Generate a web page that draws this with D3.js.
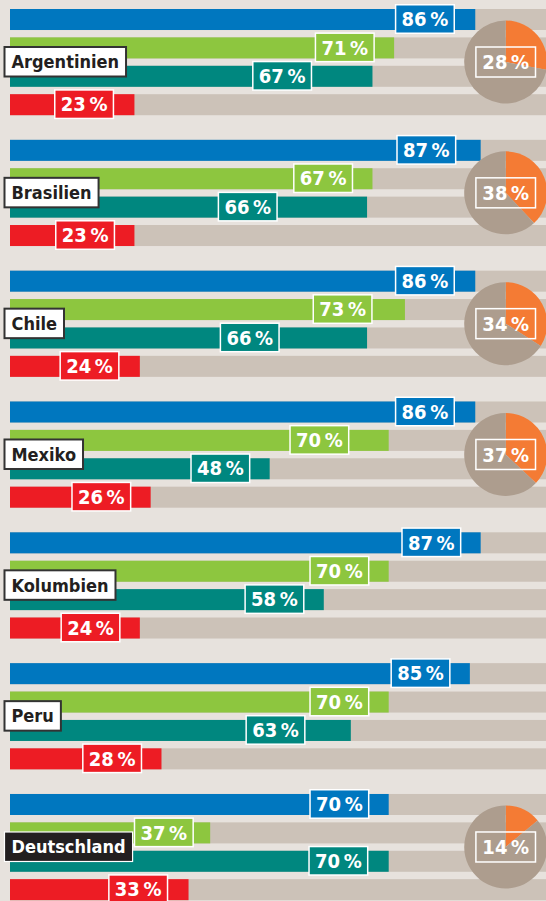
<!DOCTYPE html>
<html>
<head>
<meta charset="utf-8">
<script src="https://cdn.jsdelivr.net/npm/d3@7/dist/d3.min.js"></script>
<style>
  html, body { margin: 0; padding: 0; background: #e7e2dd; }
  svg { display: block; }
  text { font-family: "DejaVu Sans Condensed", "DejaVu Sans", sans-serif; font-weight: bold; }
</style>
</head>
<body>
<div id="chart"></div>
<script>
// values, one entry per country
const countries = ["Argentinien", "Brasilien", "Chile", "Mexiko", "Kolumbien", "Peru", "Deutschland"];
const blueValues = [86, 87, 86, 86, 87, 85, 70];
const greenValues = [71, 67, 73, 70, 70, 70, 37];
const tealValues = [67, 66, 66, 48, 58, 63, 70];
const redValues = [23, 23, 24, 26, 24, 28, 33];
const pieValues = [28, 38, 34, 37, null, null, 14]; // no pie for Kolumbien / Peru

const seriesColors = ["#0077bf", "#8dc63f", "#00877f", "#ed1c24"];

// hand placed labels in the original: extra shift to the left (px) per bar
const labelNudge = {
  Argentinien: [1, 0, 41, 1],
  Brasilien: [5, 0, 70, 0],
  Chile: [1, 13, 68, 1],
  Mexiko: [1, 20, 0, 0],
  Peru: [0, 0, 26, 0],
  Deutschland: [0, -3, 1, 1]
};

const width = 546, height = 901;

const svg = d3.select("#chart").append("svg")
  .attr("width", width)
  .attr("height", height);

svg.append("rect").attr("width", width).attr("height", height).attr("fill", "#e7e2dd");

const x = d3.scaleLinear().domain([0, 100]).range([10, 551]);

const yGroup = d3.scaleBand()
  .domain(countries)
  .range([9, 9 + countries.length * 130.83])
  .paddingInner(0);

const yRow = d3.scaleBand()
  .domain([0, 1, 2, 3])
  .range([0, 106.2])
  .paddingInner(0.26)
  .paddingOuter(0);

const rows = countries.map((c, i) => ({
  country: c,
  values: [blueValues[i], greenValues[i], tealValues[i], redValues[i]],
  pie: pieValues[i]
}));

const groups = svg.selectAll("g.country")
  .data(rows)
  .enter().append("g")
  .attr("class", "country")
  .attr("transform", (d) => "translate(0," + yGroup(d.country) + ")");

// grey tracks behind each bar
groups.selectAll("rect.track")
  .data([0, 1, 2, 3])
  .enter().append("rect")
  .attr("class", "track")
  .attr("x", x(0))
  .attr("y", (r) => yRow(r))
  .attr("width", width - x(0))
  .attr("height", yRow.bandwidth())
  .attr("fill", "#ccc2b8");

groups.selectAll("rect.bar")
  .data((d) => d.values.map((v, r) => ({ v: v, r: r, country: d.country })))
  .enter().append("rect")
  .attr("class", "bar")
  .attr("x", x(0))
  .attr("y", (b) => yRow(b.r))
  .attr("width", (b) => x(b.v) - x(0))
  .attr("height", yRow.bandwidth())
  .attr("fill", (b) => seriesColors[b.r]);

// pies
const pie = d3.pie().sort(null);
const arc = d3.arc().innerRadius(0).outerRadius(41.5);

const pieGroups = groups.filter((d) => d.pie != null)
  .append("g")
  .attr("transform", "translate(505.7,53)");

pieGroups.selectAll("path")
  .data((d) => pie([d.pie, 100 - d.pie]))
  .enter().append("path")
  .attr("d", arc)
  .attr("fill", (s, i) => i === 0 ? "#f47b34" : "#ad9d8e");

pieGroups.append("rect")
  .attr("x", -29.8)
  .attr("y", -15)
  .attr("width", 59.6)
  .attr("height", 30)
  .attr("fill", "none")
  .attr("stroke", "#fff")
  .attr("stroke-width", 1.5);

pieGroups.append("text")
  .attr("fill", "#fff")
  .attr("font-size", 20)
  .attr("text-anchor", "middle")
  .attr("y", 7.2)
  .text((d) => d.pie + "\u2009%");

// value labels, boxed in the bar colour
const boxH = 28.5;
groups.each(function (d) {
  const g = d3.select(this);
  const nudge = labelNudge[d.country] || [0, 0, 0, 0];
  d.values.forEach((v, r) => {
    const lab = g.append("g");
    const t = lab.append("text")
      .attr("fill", "#fff")
      .attr("font-size", 20)
      .attr("text-anchor", "middle")
      .text(v + "\u2009%");
    const tw = t.node().getComputedTextLength();
    const w = tw + 12;
    const right = x(v) - 20 - nudge[r];
    const cy = yRow(r) + yRow.bandwidth() / 2 - 0.5;
    lab.insert("rect", () => t.node())
      .attr("x", right - w)
      .attr("y", cy - boxH / 2)
      .attr("width", w)
      .attr("height", boxH)
      .attr("fill", seriesColors[r])
      .attr("stroke", "#fff")
      .attr("stroke-width", 1.5);
    t.attr("x", right - w / 2).attr("y", cy + 7.2);
  });
});

// country name tags
groups.each(function (d) {
  const g = d3.select(this).append("g");
  const dark = d.country === "Deutschland";
  const t = g.append("text")
    .attr("font-size", 18)
    .attr("fill", dark ? "#fff" : "#231f20")
    .attr("x", 11.5)
    .attr("y", 52.7 + 6.6)
    .text(d.country);
  const tw = t.node().getComputedTextLength();
  g.insert("rect", () => t.node())
    .attr("x", 4.5)
    .attr("y", 38)
    .attr("width", tw + 14)
    .attr("height", 29.5)
    .attr("fill", dark ? "#231f20" : "#fff")
    .attr("stroke", dark ? "#fff" : "#333")
    .attr("stroke-width", dark ? 1.2 : 2);
});
</script>
</body>
</html>
